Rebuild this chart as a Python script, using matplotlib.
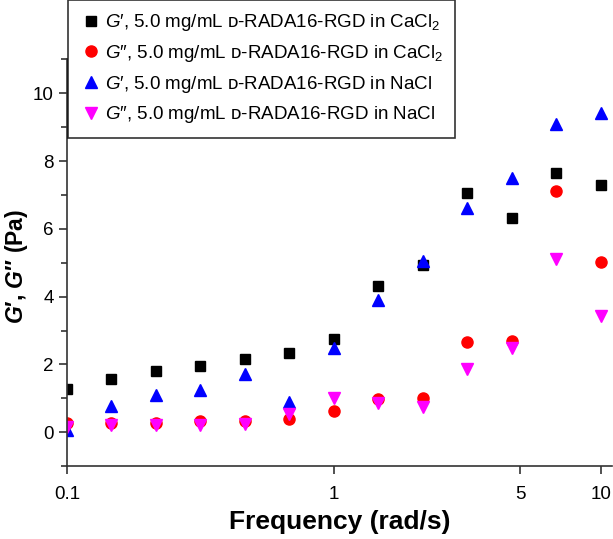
import matplotlib
matplotlib.use('Agg')
import matplotlib.pyplot as plt
from matplotlib.ticker import FixedLocator, MultipleLocator, NullLocator

plt.rcParams['font.family'] = ['Liberation Sans', 'DejaVu Sans']
plt.rcParams['mathtext.fontset'] = 'custom'
plt.rcParams['mathtext.rm'] = 'Liberation Sans'
plt.rcParams['mathtext.it'] = 'Liberation Sans:italic'
plt.rcParams['mathtext.bf'] = 'Liberation Sans:bold'
plt.rcParams['mathtext.bfit'] = 'Liberation Sans:italic:bold'

# angular frequency (rad/s)
freq = [0.1, 0.147, 0.215, 0.316, 0.464, 0.681, 1.0, 1.47, 2.15, 3.16, 4.64, 6.81, 10.0]

# moduli (Pa)
g1_cacl2 = [1.29, 1.58, 1.81, 1.97, 2.15, 2.34, 2.75, 4.32, 4.93, 7.05, 6.33, 7.64, 7.28]
g2_cacl2 = [0.27, 0.28, 0.28, 0.32, 0.32, 0.39, 0.62, 0.99, 1.01, 2.66, 2.70, 7.13, 5.03]
g1_nacl = [0.07, 0.78, 1.10, 1.26, 1.73, 0.88, 2.48, 3.89, 5.06, 6.62, 7.50, 9.08, 9.42]
g2_nacl = [0.15, 0.23, 0.23, 0.23, 0.26, 0.55, 1.01, 0.85, 0.75, 1.86, 2.48, 5.10, 3.43]

labels = [
    '$G$\u2032, 5.0 mg/mL \u1d05-RADA16-RGD in CaCl$_2$',
    '$G$\u2033, 5.0 mg/mL \u1d05-RADA16-RGD in CaCl$_2$',
    '$G$\u2032, 5.0 mg/mL \u1d05-RADA16-RGD in NaCl',
    '$G$\u2033, 5.0 mg/mL \u1d05-RADA16-RGD in NaCl',
]

fig = plt.figure(figsize=(6.13, 5.39), dpi=100)
ax = fig.add_axes([0.109, 0.135, 0.889, 0.755])

ax.plot(freq, g1_cacl2, 's', color='black', ms=7, label=labels[0])
ax.plot(freq, g2_cacl2, 'o', color='red', ms=8, label=labels[1])
ax.plot(freq, g1_nacl, '^', color='blue', ms=8.5, label=labels[2])
ax.plot(freq, g2_nacl, 'v', color='#ff00ff', ms=8.5, label=labels[3])

ax.set_xscale('log')
ax.set_xlim(0.1, 11)
ax.set_ylim(-1, 11)

ax.xaxis.set_major_locator(FixedLocator([0.1, 1, 5, 10]))
ax.xaxis.set_major_formatter(plt.FixedFormatter(['0.1', '1', '5', '10']))
ax.xaxis.set_minor_locator(NullLocator())
ax.yaxis.set_major_locator(FixedLocator([0, 2, 4, 6, 8, 10]))
ax.yaxis.set_minor_locator(MultipleLocator(1))

for s in ['top', 'right']:
    ax.spines[s].set_visible(False)
for s in ['left', 'bottom']:
    ax.spines[s].set_color('#333333')
    ax.spines[s].set_linewidth(1.2)

ax.tick_params(axis='both', which='major', direction='out', length=6, width=1.2,
               labelsize=13.5, color='#333333')
ax.tick_params(axis='both', which='minor', direction='out', length=4, width=1.2,
               color='#333333')
ax.tick_params(axis='x', pad=8)

ax.set_xlabel('Frequency (rad/s)', fontsize=19, fontweight='bold', labelpad=5)
ax.set_ylabel('$\\mathbfit{G}$\u2032, $\\mathbfit{G}$\u2033 (Pa)', fontsize=16.5,
              fontweight='bold')
ax.yaxis.set_label_coords(-0.068, 0.49)

leg = fig.legend(loc='upper left', bbox_to_anchor=(68 / 613, 1.0),
                 bbox_transform=fig.transFigure, fontsize=13.5, frameon=True,
                 fancybox=False, edgecolor='black', handletextpad=0.1,
                 handlelength=1.2, labelspacing=0.52, borderpad=0.65,
                 borderaxespad=0)
leg.get_frame().set_linewidth(1.2)

fig.savefig('out.png', dpi=100)
